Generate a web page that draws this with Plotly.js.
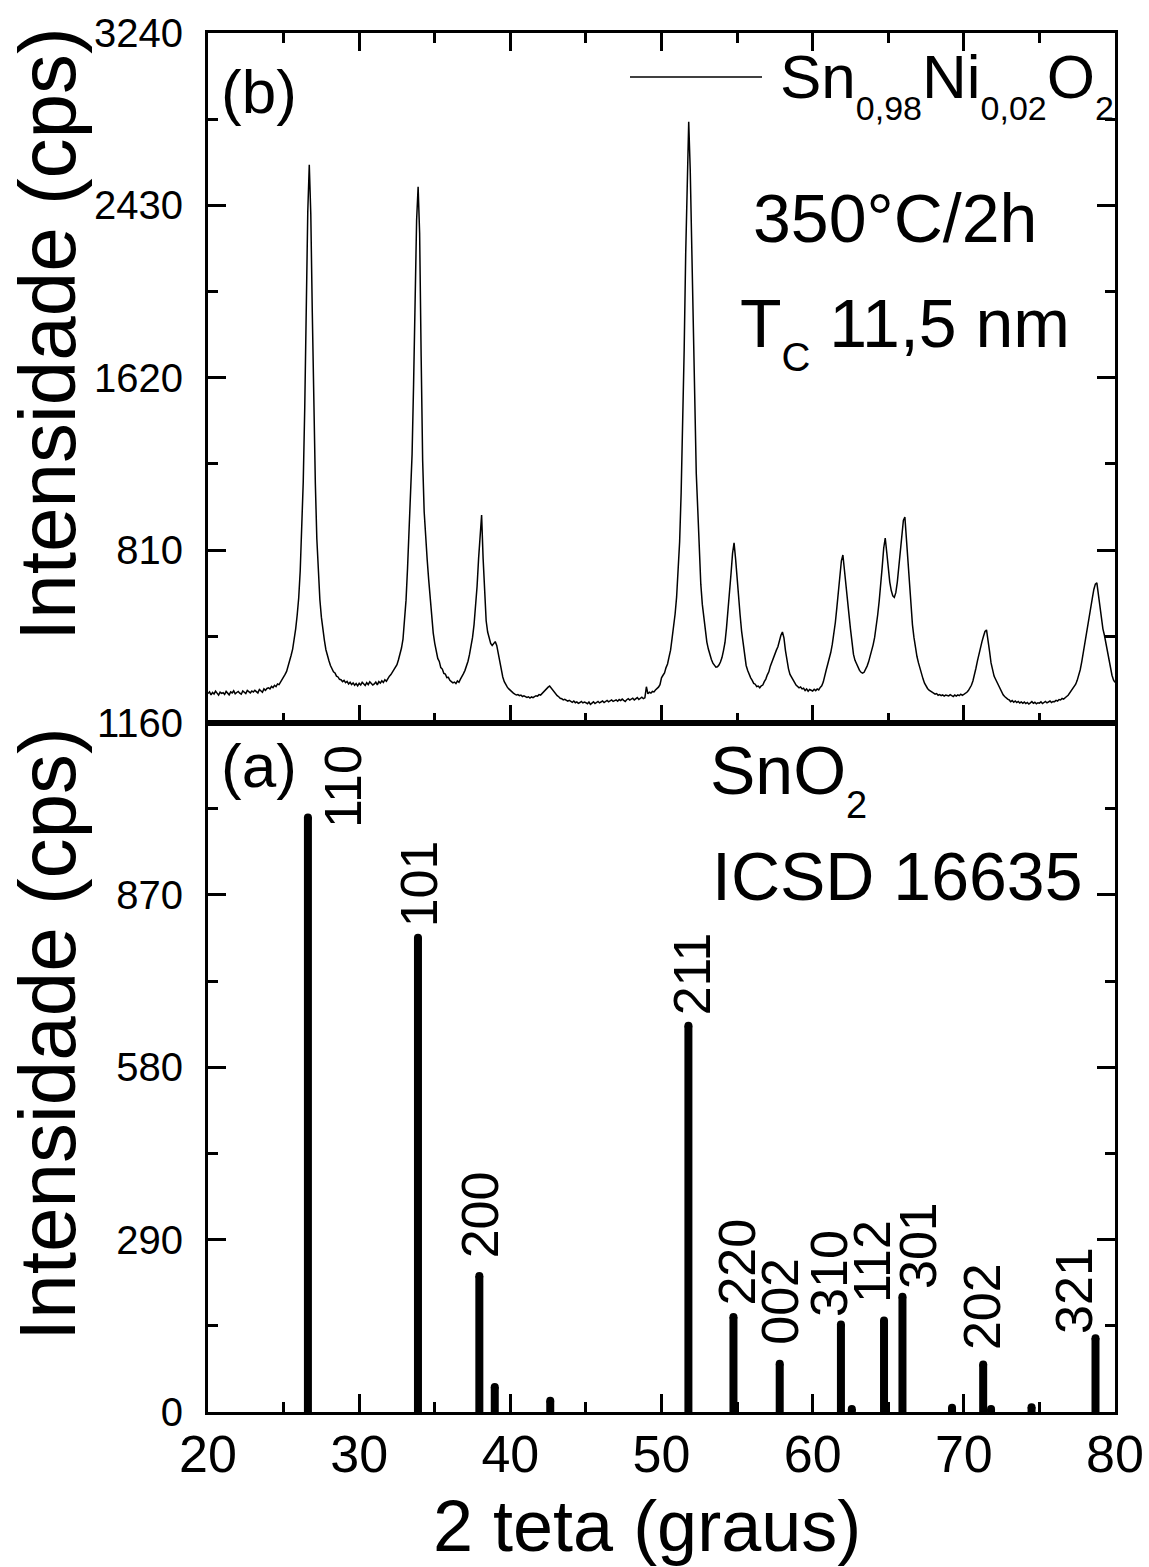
<!DOCTYPE html>
<html>
<head>
<meta charset="utf-8">
<script src="https://cdn.plot.ly/plotly-3.0.1.min.js"></script>
<style>
  html, body { margin: 0; padding: 0; background: #fff; }
  #chart { width: 1149px; height: 1567px; }
</style>
</head>
<body>
<div id="chart"></div>
<script>
// Measured XRD scan of Sn0,98Ni0,02O2 (350 °C / 2 h): 20–80° 2θ, step 0.1°
const scanStart = 20.0;
const scanStep = 0.1;
const scanCounts = [
  136,144,130,141,134,147,138,129,143,137, // 20
  140,132,146,137,130,144,139,149,135,141, // 21
  146,138,133,148,141,136,151,144,139,148, // 22
  143,151,146,139,155,148,142,158,151,160, // 23
  163,158,170,164,175,169,181,178,190,196, // 24
  212,226,240,262,290,316,345,385,440,505, // 25
  585,712,880,1130,1480,1935,2400,2621,2390,1925, // 26
  1470,1125,862,690,578,495,432,386,342,312, // 27
  290,268,255,238,233,218,214,203,201,192, // 28
  198,187,193,181,189,178,186,175,183,172, // 29
  184,176,189,180,174,187,178,191,183,176, // 30
  181,190,177,192,185,196,188,201,194,210, // 31
  218,225,236,244,260,272,295,318,350,392, // 32
  480,575,725,885,1060,1260,1590,1980,2360,2517, // 33
  2300,1720,1230,990,850,765,670,575,485,420, // 34
  372,338,301,287,258,251,231,228,211,212, // 35
  198,192,186,190,183,195,189,204,214,230, // 36
  245,262,288,320,355,400,460,540,640,770, // 37
  905,975,770,580,478,425,398,372,362,370, // 38
  380,362,322,285,243,214,192,178,166,158, // 39
  151,141,138,133,129,131,126,129,122,125, // 40
  123,118,121,115,120,117,122,126,124,131, // 41
  129,137,141,152,157,166,171,162,154,141, // 42
  134,126,121,114,112,106,109,103,100,104, // 43
  98,95,101,93,97,90,94,99,92,96,           // 44
  93,88,96,85,91,97,89,94,99,92,            // 45
  96,101,94,98,104,97,100,106,99,103,       // 46
  106,100,108,103,110,104,99,107,112,105,   // 47
  109,114,106,111,117,108,113,119,112,116,  // 48
  168,135,142,138,146,144,153,158,166,178,  // 49
  210,222,233,258,275,308,340,395,445,510,  // 50
  590,700,850,1080,1370,1750,2200,2600,2823,2600, // 51
  2200,1780,1420,1170,1000,800,650,555,485,430, // 52
  378,345,318,296,279,268,260,262,270,284, // 53
  305,338,376,445,518,612,700,795,844,770, // 54
  665,582,505,428,365,310,268,244,225,210, // 55
  198,184,180,169,171,163,172,176,192,204, // 56
  224,238,265,286,306,318,340,356,388,410, // 57
  425,398,338,292,252,226,212,195,188,176, // 58
  170,163,167,158,161,150,158,147,155,151, // 59
  148,156,150,158,153,165,172,190,214,248, // 60
  275,298,330,368,415,470,540,620,700,760, // 61
  787,710,625,560,508,440,370,320,292,276, // 62
  258,245,236,232,236,248,265,285,310,335, // 63
  365,400,445,505,570,640,730,820,867,800, // 64
  720,660,620,595,588,610,660,730,810,890, // 65
  950,966,870,740,640,540,460,400,350,310, // 66
  280,250,225,205,185,170,160,152,146,140, // 67
  138,133,136,128,131,126,130,124,129,127, // 68
  125,131,127,122,129,124,130,126,133,128, // 69
  132,136,142,150,160,175,195,222,255,290, // 70
  325,355,380,405,428,435,395,335,280,240, // 71
  218,203,188,170,155,142,130,122,114,110, // 72
  106,98,103,95,101,94,99,92,97,90,         // 73
  96,89,94,87,92,98,90,95,88,93,            // 74
  91,97,89,94,99,92,96,101,94,99,           // 75
  98,104,101,108,106,113,110,118,122,128,   // 76
  138,146,155,166,180,198,220,248,285,330,  // 77
  380,425,470,510,545,585,625,650,656,600,  // 78
  535,480,440,410,370,330,290,255,222,200,  // 79
  188                                       // 80
];

// SnO2 reference pattern (ICSD 16635)
const refAngles    = [26.61, 33.89, 37.95, 38.97, 42.64, 51.78, 54.76, 57.82, 61.87, 62.59, 64.72, 65.94, 69.22, 71.28, 71.80, 74.48, 78.71];
const refIntensity = [1000, 798, 229, 42, 19, 650, 160, 81, 147, 5, 154, 194, 7, 80, 5, 8, 124];

// Miller indices written over the reference lines (index into refAngles)
const hklNames = ['110', '101', '200', '211', '220', '002', '310', '112', '301', '202', '321'];
const hklPeak  = [0, 1, 2, 5, 6, 7, 8, 10, 11, 13, 16];

// Axis ticks
const xTicks = [20, 30, 40, 50, 60, 70, 80];
const yTicksTop = [0, 810, 1620, 2430, 3240];
const yTicksBottom = [0, 290, 580, 870, 1160];

// ---- layout helpers -------------------------------------------------
const FONT = 'Liberation Sans, Arial, Helvetica, sans-serif';
const M = { l: 208, r: 34, t: 33, b: 155 };
const PW = 1149 - M.l - M.r, PH = 1567 - M.t - M.b;
const px = x => (x - M.l) / PW;          // page pixel -> paper x
const py = y => (M.t + PH - y) / PH;      // page pixel -> paper y
// deep subscript with its own size
const lowSub = (s, size) => '<sub><sub><span style="font-size:' + size + 'px">' + s + '</span></sub></sub>';

// label placement (centre of the rotated text) relative to each line
const hklLabelPlace = [
  [2.31, 1053], [0.08, 888], [0.02, 332], [0.20, 737], [0.26, 252],
  [0.04, 186], [-0.83, 233], [-0.83, 253], [0.99, 280], [-0.06, 177], [-1.41, 204]
];

const scanX = scanCounts.map((_, i) => +(scanStart + i * scanStep).toFixed(2));

const stickX = [], stickY = [];
refAngles.forEach((a, i) => { stickX.push(a, a, null); stickY.push(0, refIntensity[i], null); });

const traces = [
  {
    x: scanX, y: scanCounts, xaxis: 'x2', yaxis: 'y2',
    type: 'scatter', mode: 'lines',
    line: { color: '#000', width: 1.5 }, showlegend: false, hoverinfo: 'x+y'
  },
  {
    x: stickX, y: stickY, xaxis: 'x', yaxis: 'y',
    type: 'scatter', mode: 'lines', line: { color: '#000', width: 8 },
    showlegend: false, hoverinfo: 'skip'
  },
  {
    x: refAngles, y: refIntensity, xaxis: 'x', yaxis: 'y',
    type: 'scatter', mode: 'markers', marker: { color: '#000', size: 8, symbol: 'circle' },
    showlegend: false, hoverinfo: 'x+y'
  }
];

const axisCommon = {
  showline: true, linecolor: '#000', linewidth: 3,
  showgrid: false, zeroline: false,
  ticks: 'inside', ticklen: 18, tickwidth: 3, tickcolor: '#000'
};

const minorCommon = { ticks: 'inside', ticklen: 10, tickwidth: 3, tickcolor: '#000', showgrid: false };

const layout = {
  width: 1149, height: 1567,
  margin: M,
  paper_bgcolor: '#fff', plot_bgcolor: '#fff',
  font: { family: FONT, color: '#000' },
  showlegend: false,
  xaxis: Object.assign({}, axisCommon, {
    domain: [0, 1], anchor: 'y', range: [20, 80],
    tickmode: 'array', tickvals: xTicks, ticktext: xTicks.map(String),
    tickfont: { size: 52, family: FONT }, ticklabelstandoff: -5,
    mirror: true,
    minor: Object.assign({ dtick: 5, tick0: 20 }, minorCommon)
  }),
  yaxis: Object.assign({}, axisCommon, {
    domain: [0, 0.5], anchor: 'x', range: [0, 1160],
    tickmode: 'array', tickvals: yTicksBottom, ticktext: yTicksBottom.map(String),
    tickfont: { size: 40, family: FONT }, ticklabelstandoff: 14,
    mirror: 'ticks',
    minor: Object.assign({ dtick: 145, tick0: 0 }, minorCommon)
  }),
  xaxis2: Object.assign({}, axisCommon, {
    domain: [0, 1], anchor: 'y2', range: [20, 80], matches: 'x',
    tickmode: 'array', tickvals: xTicks, showticklabels: false,
    mirror: 'ticks',
    minor: Object.assign({ dtick: 5, tick0: 20 }, minorCommon)
  }),
  yaxis2: Object.assign({}, axisCommon, {
    domain: [0.5, 1], anchor: 'x2', range: [0, 3240],
    tickmode: 'array', tickvals: yTicksTop,
    ticktext: yTicksTop.map(v => (v === 0 ? '' : String(v))),
    tickfont: { size: 40, family: FONT }, ticklabelstandoff: 14,
    mirror: 'ticks',
    minor: Object.assign({ dtick: 405, tick0: 0 }, minorCommon)
  }),
  shapes: [
    // legend sample line
    { type: 'line', xref: 'paper', yref: 'paper',
      x0: px(630), x1: px(762), y0: py(77), y1: py(77),
      line: { color: '#000', width: 1.5 } }
  ],
  annotations: []
};

const ann = layout.annotations;
const txt = (text, x, y, size, opts) => ann.push(Object.assign({
  text, x: px(x), y: py(y), xref: 'paper', yref: 'paper',
  xanchor: 'left', yanchor: 'middle', showarrow: false,
  font: { size, family: FONT, color: '#000' }
}, opts || {}));

// axis titles
txt('Intensidade (cps)', 47, 334, 80, { xanchor: 'center', textangle: -90 });
txt('Intensidade (cps)', 47, 1034, 80, { xanchor: 'center', textangle: -90 });
txt('2 teta (graus)', 647, 1526, 72, { xanchor: 'center' });

// panel captions
txt('(b)', 219, 91, 62);
txt('(a)', 219, 765, 62);
txt('Sn' + lowSub('0,98', 34) + 'Ni' + lowSub('0,02', 34) + 'O' + lowSub('2', 34), 778, 84, 62);
txt('350°C/2h', 751, 218, 68);
txt('T' + lowSub('C', 40) + ' 11,5 nm', 738, 332, 68);
txt('SnO' + lowSub('2', 38), 708, 779, 68);
txt('ICSD 16635', 710, 876, 68);

// Miller indices above the reference lines
hklNames.forEach((name, k) => {
  const i = hklPeak[k];
  ann.push({
    text: name, xref: 'x', yref: 'y',
    x: refAngles[i] + hklLabelPlace[k][0], y: hklLabelPlace[k][1],
    xanchor: 'center', yanchor: 'middle', textangle: -90, showarrow: false,
    font: { size: 52, family: FONT, color: '#000' }
  });
});

Plotly.newPlot('chart', traces, layout, { staticPlot: true, displayModeBar: false });
</script>
</body>
</html>
